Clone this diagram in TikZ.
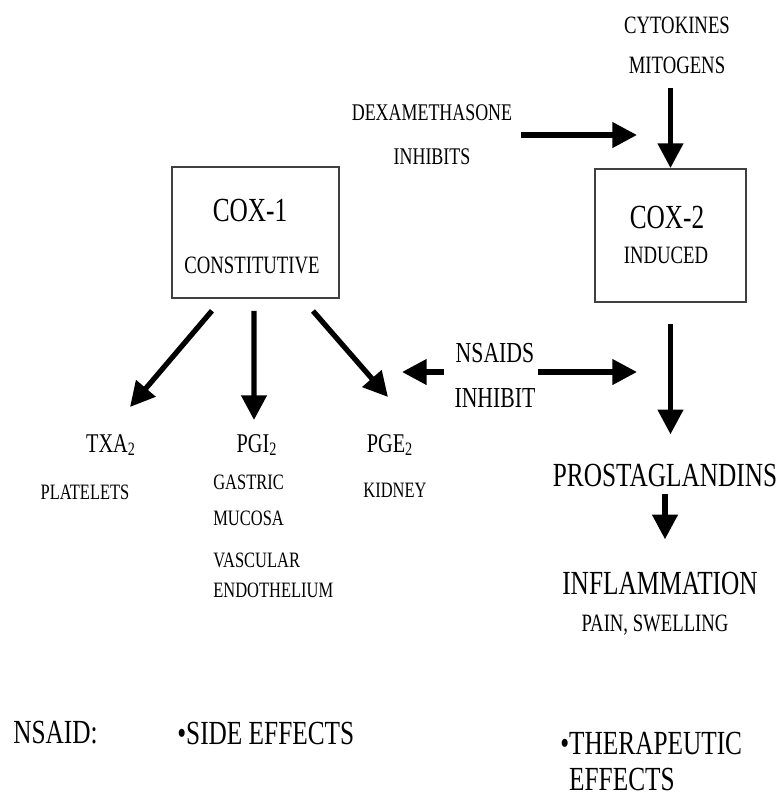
\documentclass[tikz,border=0pt]{standalone}
\usepackage{fontspec}
\setmainfont[FakeStretch=0.75]{Liberation Serif}
\usetikzlibrary{arrows.meta}

\begin{document}
\begin{tikzpicture}[x=0.02cm,y=-0.02cm]
\tikzstyle{every node}+=[inner sep=0pt]
\tikzstyle{arr}=[line width=3pt,-{Triangle[length=14pt,width=14pt]}]
\tikzstyle{box}=[draw=black!75,line width=1.1pt,minimum width=3.34cm,minimum height=2.62cm]
\tikzstyle{big}=[font=\fontsize{19.2}{21}\selectfont]
\tikzstyle{mid}=[font=\fontsize{16.5}{25.6}\selectfont]
\tikzstyle{small}=[font=\fontsize{14.2}{22.8}\selectfont]
\tikzstyle{tiny}=[font=\fontsize{12.5}{20.5}\selectfont]
\useasboundingbox (0,0) rectangle (779,796);
% enzymes
\node [box] (cox1) at (255.5,232.5) {};
\node [big] (cox1t) at (250,210) {COX-1};
\node [small] (cox1s) at (252,265) {CONSTITUTIVE};
\node [box,minimum width=3.02cm,minimum height=2.66cm] (cox2) at (670.5,235.5) {};
\node [big] (cox2t) at (667,217) {COX-2};
\node [small] (cox2s) at (666,255) {INDUCED};
% inducers and inhibitors
\node [small,align=center] (cyto) at (677,45) {CYTOKINES\\MITOGENS};
\node [align=center,font=\fontsize{13.6}{25}\selectfont] (dex) at (432,135) {DEXAMETHASONE\\INHIBITS};
\node [mid,align=center] (nsaids) at (495,375.5) {NSAIDS\\INHIBIT};
\coordinate (dexend) at (637,135);
\coordinate (nsl) at (402,372);
\coordinate (nsr) at (637,372);
\draw [arr,shorten <=0.28cm] (cyto.south -| cox2.north) -- (cox2.north);
\draw [arr,shorten <=0.18cm] (dex.east) -- (dexend);
\draw [arr,shorten <=0.2cm] (nsaids.west |- nsl) -- (nsl);
\draw [arr,shorten <=0.04cm] (nsaids.east |- nsr) -- (nsr);
% COX-1 products
\node [font=\fontsize{15.4}{18}\selectfont] (txa) at (111,445) {TXA\textsubscript{2}};
\node [font=\fontsize{15.4}{18}\selectfont] (pgi) at (257,445) {PGI\textsubscript{2}};
\node [font=\fontsize{15.4}{18}\selectfont] (pge) at (390,445) {PGE\textsubscript{2}};
\node [tiny] (plat) at (85,492) {PLATELETS};
\node [tiny,align=left,anchor=west] (gast) at (213,500) {GASTRIC\\MUCOSA};
\node [align=left,anchor=west,font=\fontsize{12.5}{17}\selectfont] (vasc) at (213,575) {VASCULAR\\ENDOTHELIUM};
\node [tiny] (kid) at (395,490) {KIDNEY};
\coordinate (ta) at (130,407);
\coordinate (tb) at (254,420);
\coordinate (tc) at (388,397);
\draw [arr,shorten <=0.31cm] ([xshift=-0.67cm]cox1.south) -- (ta);
\draw [arr,shorten <=0.24cm] ([xshift=-0.03cm]cox1.south) -- (tb);
\draw [arr,shorten <=0.32cm] ([xshift=0.94cm]cox1.south) -- (tc);
% COX-2 products
\node [big] (pros) at (665,475) {PROSTAGLANDINS};
\node [big] (infl) at (660,583) {INFLAMMATION};
\node [small] (pain) at (655,625) {PAIN, SWELLING};
\draw [arr,shorten <=0.42cm,shorten >=0.58cm] (cox2.south) -- (cox2.south |- pros.north);
\draw [arr,shorten <=0.14cm,shorten >=0.64cm] (pros.south) -- (pros.south |- infl.north);
% effects
\node [big,anchor=west] (nsaid) at (13,733) {NSAID:};
\node [big,anchor=west] (side) at (177,733) {\textbullet SIDE EFFECTS};
\node [big,anchor=west,align=left] (ther) at (560,761.5) {\textbullet THERAPEUTIC\\\hphantom{\textbullet}EFFECTS};
\end{tikzpicture}
\end{document}
